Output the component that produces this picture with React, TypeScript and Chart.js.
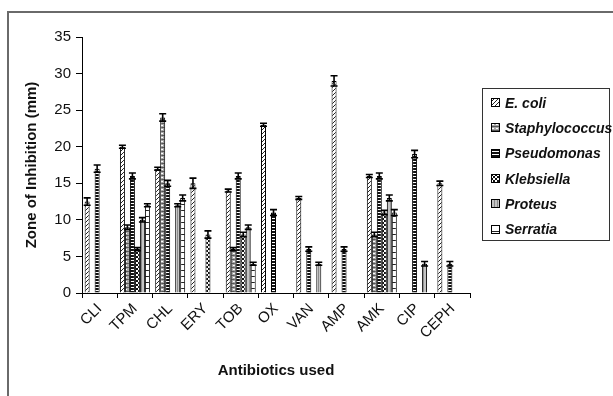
import React, { useEffect, useRef } from "react";
import { Chart, registerables } from "chart.js";

Chart.register(...registerables);

const categories = ["CLI", "TPM", "CHL", "ERY", "TOB", "OX", "VAN", "AMP", "AMK", "CIP", "CEPH"];
const seriesNames = ["E. coli", "Staphylococcus", "Pseudomonas", "Klebsiella", "Proteus", "Serratia"];

const ecoli = [12.5, 20, 17, 15, 14, 23, 13, 29, 16, null, 15];
const staph = [null, 9, 24, null, 6, null, null, null, 8, null, null];
const pseudo = [17, 16, 15, null, 16, 11, 6, 6, 16, 19, 4];
const klebs = [null, 6, null, 8, 8, null, null, null, 11, null, null];
const proteus = [null, 10, 12, null, 9, null, 4, null, 13, 4, null];
const serratia = [null, 12, 13, null, 4, null, null, null, 11, null, null];

const ecoliErr = [0.5, 0.2, 0.2, 0.7, 0.2, 0.2, 0.2, 0.7, 0.2, 0, 0.3];
const staphErr = [0, 0.3, 0.5, 0, 0.2, 0, 0, 0, 0.3, 0, 0];
const pseudoErr = [0.5, 0.4, 0.4, 0, 0.4, 0.4, 0.3, 0.3, 0.4, 0.5, 0.3];
const klebsErr = [0, 0.2, 0, 0.5, 0.3, 0, 0, 0, 0.3, 0, 0];
const proteusErr = [0, 0.3, 0.2, 0, 0.3, 0, 0.2, 0, 0.4, 0.3, 0];
const serratiaErr = [0, 0.2, 0.4, 0, 0.2, 0, 0, 0, 0.4, 0, 0];

const yTicks = [0, 5, 10, 15, 20, 25, 30, 35];

const seriesValues = [ecoli, staph, pseudo, klebs, proteus, serratia];
const seriesErrors = [ecoliErr, staphErr, pseudoErr, klebsErr, proteusErr, serratiaErr];

function makeTile(kind: number): HTMLCanvasElement {
  const c = document.createElement("canvas");
  let w = 4, h = 4;
  if (kind === 2) { w = 4; h = 3; }
  if (kind === 5) { w = 6; h = 6; }
  if (kind === 4) { w = 3; h = 3; }
  c.width = w; c.height = h;
  const g = c.getContext("2d")!;
  g.fillStyle = "#ffffff";
  g.fillRect(0, 0, w, h);
  g.fillStyle = "#000";
  if (kind === 0) {
    g.fillStyle = "#222";
    g.fillRect(3, 0, 1, 1);
    g.fillRect(2, 1, 1, 1);
    g.fillRect(1, 2, 1, 1);
    g.fillRect(0, 3, 1, 1);
  } else if (kind === 1) {
    g.fillStyle = "#a6a6a6";
    g.fillRect(0, 0, w, h);
    g.fillStyle = "#ffffff";
    g.fillRect(1, 1, 2, 1);
    g.fillStyle = "#555";
    g.fillRect(0, 3, 4, 1);
  } else if (kind === 2) {
    g.fillStyle = "#111";
    g.fillRect(0, 0, w, 2);
  } else if (kind === 3) {
    g.fillStyle = "#111";
    g.fillRect(0, 0, 2, 2);
    g.fillRect(2, 2, 2, 2);
  } else if (kind === 4) {
    g.fillStyle = "#c4c4c4";
    g.fillRect(0, 0, w, h);
    g.fillStyle = "#8a8a8a";
    g.fillRect(0, 0, 1, h);
  } else if (kind === 5) {
    g.fillStyle = "#222";
    g.fillRect(0, 0, w, 1);
  }
  return c;
}

function makePattern(ctx: CanvasRenderingContext2D, kind: number) {
  return ctx.createPattern(makeTile(kind), "repeat") as CanvasPattern;
}

function Swatch({ kind }: { kind: number }) {
  const ref = useRef<HTMLCanvasElement>(null);
  useEffect(() => {
    const c = ref.current!;
    const g = c.getContext("2d")!;
    g.fillStyle = makePattern(g, kind);
    g.fillRect(0, 0, 9, 9);
    g.strokeStyle = "#000";
    g.lineWidth = 1;
    g.strokeRect(0.5, 0.5, 8, 8);
  }, [kind]);
  return <canvas ref={ref} width={9} height={9} style={{ display: "block", marginRight: 5 }} />;
}

const errorBarPlugin = {
  id: "errorBars",
  afterDatasetsDraw(chart: any) {
    const ctx = chart.ctx;
    const yScale = chart.scales.y;
    ctx.save();
    ctx.strokeStyle = "#000";
    ctx.lineWidth = 1.6;
    chart.data.datasets.forEach((ds: any, i: number) => {
      const meta = chart.getDatasetMeta(i);
      meta.data.forEach((el: any, j: number) => {
        const v = ds.data[j];
        if (v === null || v === undefined) return;
        const e = Math.max(ds.errors[j] || 0, 0.15);
        const yt = yScale.getPixelForValue(v + e);
        const yb = yScale.getPixelForValue(v - e);
        const x = el.x;
        const hw = 3.5;
        ctx.beginPath();
        ctx.moveTo(x, yt);
        ctx.lineTo(x, yb);
        ctx.moveTo(x - hw, yt);
        ctx.lineTo(x + hw, yt);
        ctx.moveTo(x - hw, yb);
        ctx.lineTo(x + hw, yb);
        ctx.stroke();
      });
    });
    ctx.restore();
  },
};

const titlesPlugin = {
  id: "axisTitles",
  afterDraw(chart: any) {
    const ctx = chart.ctx;
    const a = chart.chartArea;
    ctx.save();
    ctx.fillStyle = "#111";
    ctx.font = "bold 15px 'Liberation Sans', Arial, sans-serif";
    ctx.textAlign = "center";
    ctx.textBaseline = "middle";
    ctx.fillText("Antibiotics used", (a.left + a.right) / 2, 371);
    ctx.translate(32, (a.top + a.bottom) / 2);
    ctx.rotate(-Math.PI / 2);
    ctx.fillText("Zone of Inhibition (mm)", 0, 0);
    ctx.restore();
  },
};

export default function App() {
  const ref = useRef<HTMLCanvasElement>(null);
  useEffect(() => {
    const canvas = ref.current!;
    const ctx = canvas.getContext("2d")!;
    const chart = new Chart(canvas, {
      type: "bar",
      data: {
        labels: categories,
        datasets: seriesNames.map((name, i) => ({
          label: name,
          data: seriesValues[i],
          errors: seriesErrors[i],
          backgroundColor: makePattern(ctx, i),
          borderColor: "#000",
          borderWidth: 1,
          categoryPercentage: 0.85,
          barPercentage: 1.0,
        })) as any,
      },
      options: {
        animation: false,
        responsive: false,
        maintainAspectRatio: false,
        layout: { padding: { left: 0, right: 143, top: 37, bottom: 0 } },
        plugins: { legend: { display: false }, tooltip: { enabled: false }, title: { display: false } },
        scales: {
          x: {
            grid: { display: true, drawOnChartArea: false, color: "#000", tickLength: 5, offset: true },
            border: { color: "#000", width: 1 },
            ticks: {
              color: "#111",
              font: { size: 15, family: "'Liberation Sans', Arial, sans-serif" },
              maxRotation: 45,
              minRotation: 45,
              padding: 2,
              autoSkip: false,
            },
            afterFit: (s: any) => { s.height = 103; },
          },
          y: {
            min: 0,
            max: 35,
            afterBuildTicks: (s: any) => { s.ticks = yTicks.map((v) => ({ value: v })); },
            grid: { display: true, drawOnChartArea: false, color: "#000", tickLength: 6 },
            border: { color: "#000", width: 1 },
            ticks: {
              color: "#111",
              font: { size: 15, family: "'Liberation Sans', Arial, sans-serif" },
              padding: 5,
            },
            afterFit: (s: any) => { s.width = 82; },
          },
        },
      },
      plugins: [errorBarPlugin, titlesPlugin],
    } as any);
    return () => chart.destroy();
  }, []);

  return (
    <div style={{ position: "fixed", left: 0, top: 0, width: 613, height: 396, background: "#fff", overflow: "hidden" }}>
      <div style={{ position: "absolute", left: 7, top: 11, width: 620, height: 400, border: "2px solid #6a6a6a", boxSizing: "border-box" }} />
      <canvas ref={ref} width={613} height={396} style={{ position: "absolute", left: 0, top: 0 }} />
      <div
        style={{
          position: "absolute",
          left: 482,
          top: 88,
          width: 128,
          height: 153,
          border: "1.5px solid #333",
          boxSizing: "border-box",
          background: "#fff",
          padding: "1px 0 0 8px",
          fontFamily: "'Liberation Sans', Arial, sans-serif",
          fontWeight: "bold",
          fontStyle: "italic",
          fontSize: 14,
          color: "#111",
        }}
      >
        {seriesNames.map((n, i) => (
          <div key={n} style={{ display: "flex", alignItems: "center", height: 25.3 }}>
            <Swatch kind={i} />
            <span style={{ whiteSpace: "nowrap" }}>{n}</span>
          </div>
        ))}
      </div>
    </div>
  );
}
